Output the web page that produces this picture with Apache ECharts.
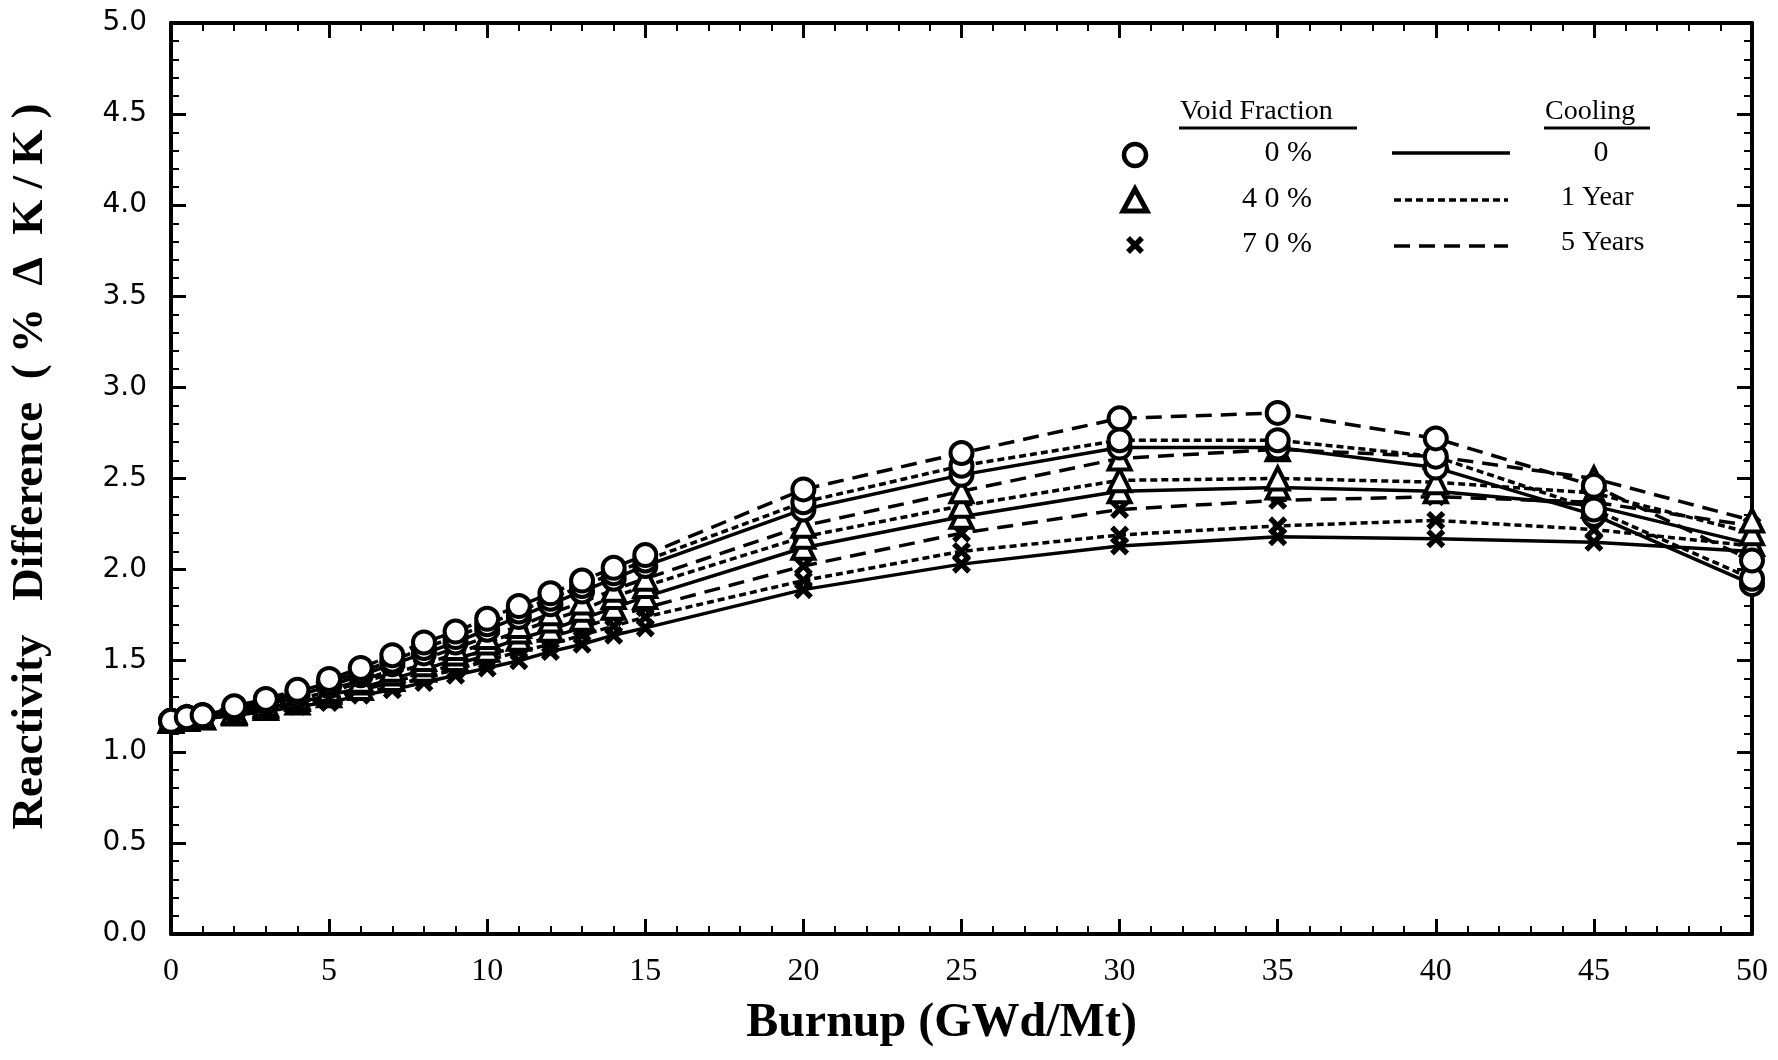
<!DOCTYPE html>
<html>
<head>
<meta charset="utf-8">
<script src="https://cdn.jsdelivr.net/npm/echarts@6/dist/echarts.min.js"></script>
<style>
  html, body { margin: 0; padding: 0; background: #fff; }
  #chart { width: 1778px; height: 1060px; }
</style>
</head>
<body>
<div id="chart"></div>
<script>
// burnup points (GWd/Mt)
var burnup = [0, 0.5, 1, 2, 3, 4, 5, 6, 7, 8, 9, 10, 11, 12, 13, 14, 15, 20, 25, 30, 35, 40, 45, 50];

// reactivity difference (%dK/K), void 0 %
var void0_cool0  = [1.17, 1.19, 1.20, 1.23, 1.27, 1.31, 1.36, 1.42, 1.48, 1.54, 1.60, 1.67, 1.74, 1.81, 1.88, 1.95, 2.02, 2.33, 2.52, 2.67, 2.67, 2.56, 2.30, 1.92];
var void0_cool1  = [1.17, 1.19, 1.20, 1.24, 1.28, 1.33, 1.38, 1.44, 1.50, 1.57, 1.63, 1.70, 1.77, 1.84, 1.91, 1.98, 2.05, 2.37, 2.57, 2.71, 2.71, 2.62, 2.33, 1.95];
var void0_cool5  = [1.17, 1.19, 1.20, 1.25, 1.29, 1.34, 1.40, 1.46, 1.53, 1.60, 1.66, 1.73, 1.80, 1.87, 1.94, 2.01, 2.08, 2.44, 2.64, 2.83, 2.86, 2.72, 2.46, 2.05];
// void 40 %
var void40_cool0 = [1.17, 1.18, 1.19, 1.21, 1.24, 1.27, 1.31, 1.35, 1.40, 1.45, 1.51, 1.56, 1.62, 1.67, 1.73, 1.79, 1.85, 2.12, 2.29, 2.43, 2.45, 2.43, 2.35, 2.14];
var void40_cool1 = [1.17, 1.18, 1.19, 1.22, 1.25, 1.29, 1.33, 1.38, 1.43, 1.48, 1.54, 1.60, 1.66, 1.72, 1.78, 1.85, 1.91, 2.18, 2.35, 2.49, 2.50, 2.48, 2.42, 2.20];
var void40_cool5 = [1.17, 1.18, 1.19, 1.22, 1.26, 1.30, 1.34, 1.39, 1.45, 1.51, 1.57, 1.63, 1.69, 1.76, 1.82, 1.89, 1.95, 2.24, 2.43, 2.61, 2.66, 2.62, 2.50, 2.27];
// void 70 %
var void70_cool0 = [1.17, 1.17, 1.18, 1.20, 1.22, 1.25, 1.27, 1.31, 1.34, 1.38, 1.42, 1.46, 1.50, 1.55, 1.59, 1.64, 1.68, 1.89, 2.03, 2.13, 2.18, 2.17, 2.15, 2.10];
var void70_cool1 = [1.17, 1.18, 1.18, 1.20, 1.23, 1.26, 1.29, 1.32, 1.36, 1.41, 1.45, 1.50, 1.55, 1.59, 1.64, 1.69, 1.74, 1.94, 2.10, 2.19, 2.24, 2.27, 2.22, 2.13];
var void70_cool5 = [1.17, 1.18, 1.18, 1.21, 1.24, 1.27, 1.30, 1.34, 1.38, 1.43, 1.48, 1.53, 1.58, 1.63, 1.68, 1.74, 1.79, 2.02, 2.20, 2.33, 2.38, 2.40, 2.37, 2.24];

var xTicks = ['0', '5', '10', '15', '20', '25', '30', '35', '40', '45', '50'];
var yTicks = ['0.0', '0.5', '1.0', '1.5', '2.0', '2.5', '3.0', '3.5', '4.0', '4.5', '5.0'];

var crossPath = 'path://M4,0 L10,6 L16,0 L20,4 L14,10 L20,16 L16,20 L10,14 L4,20 L0,16 L6,10 L0,4 Z';

var dotted = [7, 4];
var dashed = [16, 9];

function pairs(ys) {
  return burnup.map(function (x, i) { return [x, ys[i]]; });
}

var curves = [
  { name: '70% 0', data: void70_cool0, dash: 'solid', sym: crossPath },
  { name: '70% 1', data: void70_cool1, dash: dotted, sym: crossPath },
  { name: '70% 5', data: void70_cool5, dash: dashed, sym: crossPath },
  { name: '40% 0', data: void40_cool0, dash: 'solid', sym: 'triangle' },
  { name: '40% 1', data: void40_cool1, dash: dotted, sym: 'triangle' },
  { name: '40% 5', data: void40_cool5, dash: dashed, sym: 'triangle' },
  { name: '0% 0', data: void0_cool0, dash: 'solid', sym: 'circle' },
  { name: '0% 1', data: void0_cool1, dash: dotted, sym: 'circle' },
  { name: '0% 5', data: void0_cool5, dash: dashed, sym: 'circle' }
];

var series = [];
curves.forEach(function (c) {
  series.push({
    name: c.name + ' line',
    type: 'line',
    data: pairs(c.data),
    symbol: 'none',
    z: 2,
    lineStyle: { color: '#000', width: 3.5, type: c.dash, opacity: 1 },
    animation: false
  });
});
curves.forEach(function (c) {
  var isCross = c.sym === crossPath;
  series.push({
    name: c.name,
    type: 'scatter',
    data: pairs(c.data),
    symbol: c.sym,
    symbolSize: isCross ? 19 : (c.sym === 'circle' ? 22 : 22),
    z: 3,
    itemStyle: isCross
      ? { color: '#000', opacity: 1 }
      : { color: '#fff', borderColor: '#000', borderWidth: 4, opacity: 1 },
    animation: false
  });
});

var option = {
  backgroundColor: '#fff',
  animation: false,
  grid: { left: 168, right: 26, top: 23, bottom: 126 },
  xAxis: [{
    type: 'value', min: 0, max: 50, interval: 5, position: 'bottom',
    name: 'Burnup (GWd/Mt)', nameLocation: 'middle', nameGap: 66,
    nameTextStyle: { fontFamily: 'Liberation Serif', fontWeight: 'bold', fontSize: 48, color: '#000', padding: [0, 40, 0, 0] },
    axisLine: { show: true, onZero: false, lineStyle: { color: '#000', width: 4 } },
    axisTick: { show: true, inside: true, length: 15, lineStyle: { color: '#000', width: 3 } },
    minorTick: { show: true, splitNumber: 5, length: 8, lineStyle: { color: '#000', width: 2 } },
    axisLabel: {
      margin: 22, fontFamily: 'Liberation Serif', fontSize: 32, color: '#000',
      formatter: function (v) { return xTicks[Math.round(v / 5)]; }
    },
    splitLine: { show: false }
  }, {
    type: 'value', min: 0, max: 50, interval: 5, position: 'top',
    axisLine: { show: true, onZero: false, lineStyle: { color: '#000', width: 4 } },
    axisTick: { show: true, inside: true, length: 15, lineStyle: { color: '#000', width: 3 } },
    minorTick: { show: true, splitNumber: 5, length: 8, lineStyle: { color: '#000', width: 2 } },
    axisLabel: { show: false },
    splitLine: { show: false }
  }],
  yAxis: [{
    type: 'value', min: 0, max: 5, interval: 0.5, position: 'left',
    name: 'Reactivity   Difference  ( %  \u0394  K / K )', nameLocation: 'middle', nameGap: 118,
    nameTextStyle: { fontFamily: 'Liberation Serif', fontWeight: 'bold', fontSize: 45, color: '#000', padding: [0, 0, 0, 24] },
    axisLine: { show: true, onZero: false, lineStyle: { color: '#000', width: 4 } },
    axisTick: { show: true, inside: true, length: 15, lineStyle: { color: '#000', width: 3 } },
    minorTick: { show: true, splitNumber: 5, length: 8, lineStyle: { color: '#000', width: 2 } },
    axisLabel: {
      margin: 24, fontFamily: 'DejaVu Sans', fontSize: 28, color: '#000',
      formatter: function (v) { return yTicks[Math.round(v * 2)]; }
    },
    splitLine: { show: false }
  }, {
    type: 'value', min: 0, max: 5, interval: 0.5, position: 'right',
    axisLine: { show: true, onZero: false, lineStyle: { color: '#000', width: 4 } },
    axisTick: { show: true, inside: true, length: 15, lineStyle: { color: '#000', width: 3 } },
    minorTick: { show: true, splitNumber: 5, length: 8, lineStyle: { color: '#000', width: 2 } },
    axisLabel: { show: false },
    splitLine: { show: false }
  }],
  graphic: [
    // legend: void fraction column
    { type: 'text', left: 1180, top: 98, style: { text: 'Void Fraction', font: '28px "Liberation Serif"', fill: '#000' } },
    { type: 'line', shape: { x1: 1179, y1: 128, x2: 1357, y2: 128 }, style: { stroke: '#000', lineWidth: 3 } },
    { type: 'circle', shape: { cx: 1135, cy: 155, r: 11 }, style: { fill: '#fff', stroke: '#000', lineWidth: 4.5 } },
    { type: 'polygon', shape: { points: [[1135, 189], [1123, 211], [1147, 211]] }, style: { fill: '#fff', stroke: '#000', lineWidth: 5 } },
    { type: 'line', shape: { x1: 1128, y1: 238, x2: 1142, y2: 252 }, style: { stroke: '#000', lineWidth: 5.5 } },
    { type: 'line', shape: { x1: 1142, y1: 238, x2: 1128, y2: 252 }, style: { stroke: '#000', lineWidth: 5.5 } },
    { type: 'text', right: 1778 - 1312, top: 138, style: { text: '0 %', font: '30px "Liberation Serif"', fill: '#000', textAlign: 'right' } },
    { type: 'text', right: 1778 - 1312, top: 184, style: { text: '4 0 %', font: '30px "Liberation Serif"', fill: '#000', textAlign: 'right' } },
    { type: 'text', right: 1778 - 1312, top: 229, style: { text: '7 0 %', font: '30px "Liberation Serif"', fill: '#000', textAlign: 'right' } },
    // legend: cooling column
    { type: 'text', left: 1545, top: 98, style: { text: 'Cooling', font: '28px "Liberation Serif"', fill: '#000' } },
    { type: 'line', shape: { x1: 1544, y1: 128, x2: 1650, y2: 128 }, style: { stroke: '#000', lineWidth: 3 } },
    { type: 'line', shape: { x1: 1392, y1: 153, x2: 1510, y2: 153 }, style: { stroke: '#000', lineWidth: 3.5 } },
    { type: 'line', shape: { x1: 1394, y1: 200, x2: 1508, y2: 200 }, style: { stroke: '#000', lineWidth: 3.5, lineDash: dotted } },
    { type: 'line', shape: { x1: 1394, y1: 246, x2: 1508, y2: 246 }, style: { stroke: '#000', lineWidth: 3.5, lineDash: dashed } },
    { type: 'text', x: 1601, top: 138, style: { text: '0', font: '30px "Liberation Serif"', fill: '#000', textAlign: 'center' } },
    { type: 'text', left: 1561, top: 184, style: { text: '1 Year', font: '28px "Liberation Serif"', fill: '#000' } },
    { type: 'text', left: 1561, top: 229, style: { text: '5 Years', font: '28px "Liberation Serif"', fill: '#000' } }
  ],
  series: series
};

var chart = echarts.init(document.getElementById('chart'));
chart.setOption(option);
</script>
</body>
</html>
